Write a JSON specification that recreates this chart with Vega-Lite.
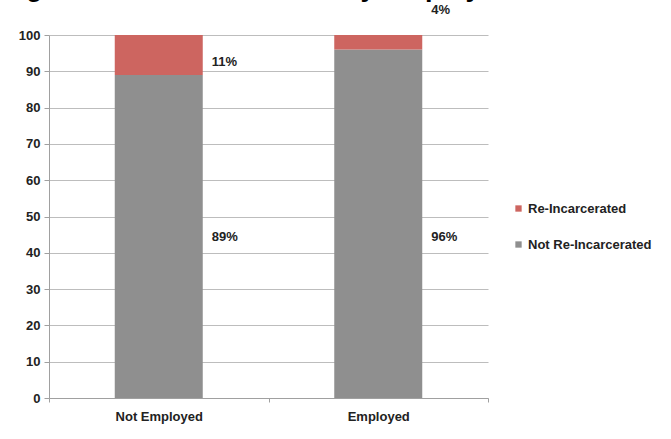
{
  "$schema": "https://vega.github.io/schema/vega-lite/v6.json",
  "width": 439,
  "height": 363,
  "autosize": {"type": "none"},
  "padding": {"left": 49, "top": 35, "right": 183, "bottom": 41},
  "background": "white",
  "title": {"text": "Figure 1: Re-Incarceration by Employment", "anchor": "start", "frame": "group", "fontSize": 27, "fontWeight": "bold", "font": "Liberation Sans", "color": "#000000", "baseline": "alphabetic", "offset": 5, "dx": -47, "dy": 24},
  "config": {
    "view": {"stroke": null},
    "font": "Liberation Sans",
    "axis": {"labelFont": "Liberation Sans", "labelFontWeight": "bold", "labelFontSize": 13, "labelColor": "#222222", "domainColor": "#A0A0A0", "tickColor": "#A0A0A0", "gridColor": "#BDBDBD"},
    "legend": {"labelFont": "Liberation Sans"}
  },
  "datasets": {
    "bars": [
      {"group": "Not Employed", "status": "Not Re-Incarcerated", "pct": 89},
      {"group": "Not Employed", "status": "Re-Incarcerated", "pct": 11},
      {"group": "Employed", "status": "Not Re-Incarcerated", "pct": 96},
      {"group": "Employed", "status": "Re-Incarcerated", "pct": 4}
    ],
    "labels": [
      {"group": "Not Employed", "label": "11%", "pos": 92.6},
      {"group": "Not Employed", "label": "89%", "pos": 44.3},
      {"group": "Employed", "label": "4%", "pos": 107},
      {"group": "Employed", "label": "96%", "pos": 44.3}
    ]
  },
  "encoding": {
    "x": {"field": "group", "type": "nominal", "sort": ["Not Employed", "Employed"],
          "scale": {"paddingInner": 0, "paddingOuter": 0},
          "axis": {"title": null, "labelAngle": 0, "tickBand": "extent", "tickSize": 4, "labelPadding": 8, "grid": false}}
  },
  "resolve": {"axis": {"y": "independent"}},
  "layer": [
    {
      "data": {"name": "bars"},
      "mark": {"type": "bar", "width": 88},
      "encoding": {
        "y": {"field": "pct", "type": "quantitative", "stack": "zero",
              "scale": {"domain": [0, 100], "nice": false},
              "axis": {"title": null, "values": [0,10,20,30,40,50,60,70,80,90,100], "labelOverlap": false, "tickSize": 5, "labelPadding": 4, "grid": true, "domain": true}},
        "color": {"field": "status", "type": "nominal",
                  "scale": {"domain": ["Re-Incarcerated", "Not Re-Incarcerated"], "range": ["#CD6560", "#8F8F8F"]},
                  "legend": {"title": null, "orient": "none", "legendX": 463, "legendY": 167, "symbolType": "square", "symbolSize": 40, "symbolStrokeWidth": 0, "labelFontSize": 13, "labelFontWeight": "bold", "labelColor": "#222222", "labelOffset": 3, "rowPadding": 22}},
        "order": {"field": "status", "sort": "ascending"}
      }
    },
    {
      "data": {"name": "labels"},
      "mark": {"type": "text", "align": "left", "baseline": "middle", "fontSize": 13, "fontWeight": "bold", "color": "#222222", "dx": 53},
      "encoding": {
        "y": {"field": "pos", "type": "quantitative", "axis": null},
        "text": {"field": "label"}
      }
    }
  ]
}
